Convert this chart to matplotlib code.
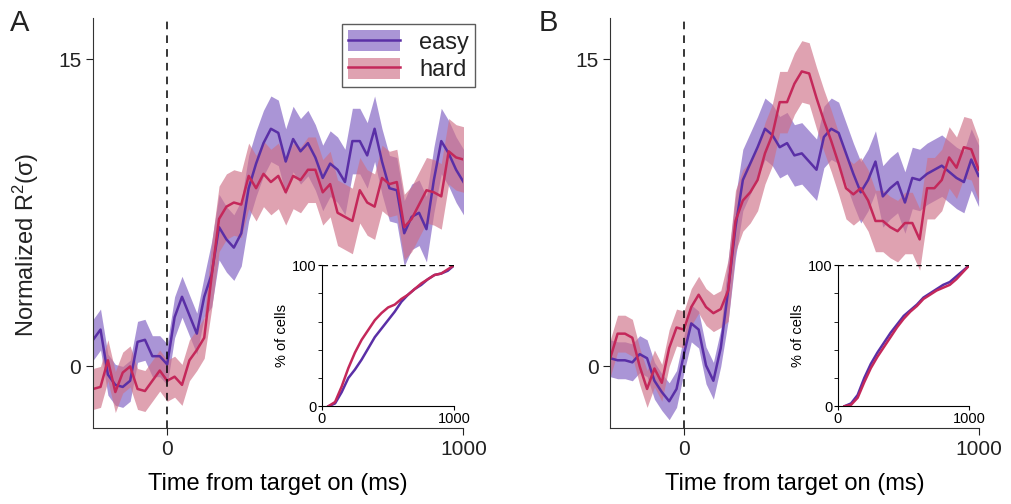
import numpy as np
import matplotlib
matplotlib.use("Agg")
import matplotlib.pyplot as plt

plt.rcParams['font.family'] = 'sans-serif'
plt.rcParams['font.sans-serif'] = ['Liberation Sans']
plt.rcParams['mathtext.fontset'] = 'custom'
plt.rcParams['mathtext.rm'] = 'Liberation Sans'
plt.rcParams['mathtext.default'] = 'rm'
plt.rcParams['text.color'] = '#222222'

t = np.arange(-250, 1001, 25)
easyA = [1.3,1.8,-0.4,-0.9,-1.0,-0.7,1.2,1.3,0.5,0.5,0.1,2.4,3.4,2.5,1.6,3.4,4.5,6.8,6.2,5.8,6.5,8.7,9.9,10.9,11.6,11.4,10.0,11.1,10.5,10.9,10.2,9.2,9.9,9.6,9.0,11.0,11.0,10.3,11.6,10.0,8.7,8.6,6.5,7.3,7.5,6.7,9.1,11.0,10.4,9.6,9.0]
hardA = [-1.1,-1.0,0.3,-1.25,-0.3,0.0,-1.1,-1.2,-0.7,-0.2,-0.7,-0.5,-0.9,0.3,0.8,1.4,4.4,7.2,7.8,8.0,7.9,9.3,8.7,9.4,9.0,9.3,8.5,9.3,9.1,9.6,9.6,8.5,8.9,7.5,7.3,7.1,8.6,8.0,7.8,9.2,8.9,9.0,6.8,7.2,7.9,8.6,8.5,8.3,10.5,10.2,10.1]
easyB = [0.4,0.3,0.3,0.2,0.6,0.4,-0.7,-1.25,-1.7,-1.1,0.6,2.1,1.8,0.05,-0.7,0.9,3.7,6.8,9.1,9.9,10.7,11.6,11.3,10.7,10.9,10.3,10.4,10.0,9.6,11.2,11.6,11.4,10.4,9.4,8.5,9.1,10.0,8.3,8.7,9.0,8.0,9.2,9.1,9.4,9.6,9.8,9.5,9.2,9.0,10.1,9.3]
hardB = [0.4,1.6,1.6,1.4,0.0,-1.1,-0.1,-0.8,0.9,1.9,1.8,2.9,3.5,2.9,2.6,2.8,3.7,7.1,8.1,8.5,9.1,10.4,11.3,12.9,12.9,13.8,14.4,14.3,13.1,12.0,11.0,9.9,8.7,8.4,8.7,8.1,7.1,7.1,6.8,6.6,7.0,7.0,6.2,8.7,8.7,9.1,10.2,9.7,10.7,10.6,9.6]
errEasyA = [1.0]*16 + [1.6]*35
errHardA = [1.0]*16 + [1.6]*35
errEasyB = [0.9]*16 + [1.5]*35
errHardB = [0.9]*16 + [1.5]*35

tc = [50,100,150,200,250,300,350,400,450,500,550,600,650,700,750,800,850,900,950,1000]
cumEasyA = [0,2,10,20,26,33,41,49,55,61,67,74,79,83,86,90,93,94,96,100]
cumHardA = [0,3,14,27,38,47,54,61,66,70,72,76,79,83,87,90,93,94,97,100]
cumEasyB = [0,2,8,20,30,38,45,52,58,64,68,72,77,80,83,86,88,92,96,100]
cumHardB = [0,1,6,17,27,35,42,49,56,62,67,71,76,79,82,84,86,90,95,100]

ce_line, ce_band = '#5a2fa6', '#8e72c9'
ch_line, ch_band = '#c4285a', '#cf7087'

fig = plt.figure(figsize=(10.12, 5.04), dpi=100)

def panel(rect, e, h, ee, eh, inset_rect, ce, chh, letter, lx, legend=False):
    ax = fig.add_axes(rect)
    e, h, ee, eh = map(np.array, (e, h, ee, eh))
    be = ax.fill_between(t, e-ee, e+ee, color=ce_band, alpha=0.75, lw=0)
    bh = ax.fill_between(t, h-eh, h+eh, color=ch_band, alpha=0.65, lw=0)
    le, = ax.plot(t, e, color=ce_line, lw=1.8)
    lh, = ax.plot(t, h, color=ch_line, lw=1.8)
    ax.axvline(0, color='k', ls=(0, (5, 4)), lw=1.1)
    ax.set_xlim(-250, 1000)
    ax.set_ylim(-3, 17)
    ax.set_xticks([0, 1000])
    ax.set_yticks([0, 15])
    for s in ['top', 'right']:
        ax.spines[s].set_visible(False)
    for s in ['left', 'bottom']:
        ax.spines[s].set_color('#333333')
    ax.tick_params(labelsize=15, colors='#222222', length=5)
    ax.set_xlabel('Time from target on (ms)', fontsize=17, labelpad=10)
    fig.text(lx, 0.955, letter, fontsize=21, ha='left', va='center')
    if legend:
        fig.text(0.026, 0.515, r'Normalized R$^2$(σ)', fontsize=17, rotation=90,
                 ha='center', va='center')
        lg = fig.legend([(be, le), (bh, lh)], ['easy', 'hard'], loc='upper right',
                        bbox_to_anchor=(0.481, 0.975), fontsize=17, frameon=True,
                        fancybox=False, edgecolor='#333333', handlelength=2.2,
                        handleheight=1.0, borderpad=0.25, labelspacing=0.15)
        lg.get_frame().set_linewidth(1.0)
    ia = fig.add_axes(inset_rect)
    ia.plot(tc, ce, color=ce_line, lw=1.8)
    ia.plot(tc, chh, color=ch_line, lw=1.8)
    ia.axhline(100, color='k', ls=(0, (4, 3)), lw=1.0, xmin=0, xmax=1.0)
    ia.set_xlim(0, 1000)
    ia.set_ylim(0, 100)
    ia.set_xticks([0, 1000])
    ia.set_yticks([0, 100])
    ia.set_yticks([20, 40, 60, 80], minor=True)
    ia.tick_params(labelsize=10.5, length=3, pad=1)
    ia.tick_params(which='minor', length=3)
    ia.set_ylabel('% of cells', fontsize=10.5, labelpad=2)
    for s in ['top', 'right']:
        ia.spines[s].set_visible(False)
    ia.patch.set_alpha(0)
    return ax

panel([0.092, 0.151, 0.366, 0.813], easyA, hardA, errEasyA, errHardA,
      [0.318, 0.194, 0.131, 0.28], cumEasyA, cumHardA, 'A', 0.010, legend=True)
panel([0.603, 0.151, 0.364, 0.813], easyB, hardB, errEasyB, errHardB,
      [0.828, 0.194, 0.130, 0.28], cumEasyB, cumHardB, 'B', 0.532)

fig.savefig('out.png', dpi=100)
